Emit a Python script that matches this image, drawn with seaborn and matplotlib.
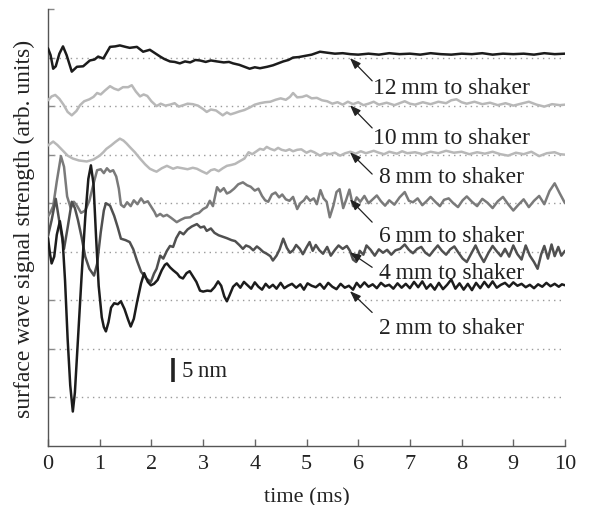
import pandas as pd
import seaborn as sns
import matplotlib.pyplot as plt

# signal traces: (time in ms, displacement in nm relative to the trace baseline)
trace_12mm = [(0, 1.9), (0.05, 0.5), (0.1, -2.3), (0.15, -1.8), (0.22, 0.8), (0.29, 2.3), (0.36, 0.5),
              (0.46, -2.9), (0.56, -1.9), (0.68, -1.8), (0.81, -0.6), (0.9, -0.4), (0.97, 0.2), (1.07, -0.2),
              (1.2, 2.2), (1.3, 2.3), (1.39, 2.5), (1.5, 2.2), (1.58, 2.0), (1.72, 2.2), (1.84, 1.2),
              (1.97, 1.6), (2.07, 0.9), (2.17, 0.2), (2.25, -0.3), (2.36, -0.8), (2.45, -0.9), (2.55, -1.2),
              (2.65, -0.8), (2.75, -1.0), (2.85, -0.5), (2.94, -0.6), (3.05, -0.9), (3.15, -0.6), (3.27, -0.8),
              (3.4, -1.0), (3.5, -0.9), (3.58, -1.2), (3.7, -1.5), (3.8, -1.9), (3.9, -2.3), (4.0, -2.0),
              (4.1, -2.2), (4.24, -1.9), (4.35, -1.6), (4.45, -1.2), (4.55, -0.8), (4.65, -0.5), (4.74, 0.0),
              (4.85, 0.1), (5.0, 0.4), (5.1, 0.6), (5.26, 1.2), (5.4, 1.0), (5.55, 0.8), (5.7, 0.9),
              (5.85, 0.7), (6.0, 0.6), (6.2, 0.8), (6.4, 0.6), (6.6, 0.9), (6.8, 0.7), (7.0, 0.8), (7.2, 0.6),
              (7.4, 0.9), (7.6, 0.7), (7.8, 0.6), (8.0, 0.8), (8.2, 0.7), (8.4, 0.9), (8.6, 0.6), (8.8, 0.8),
              (9.0, 0.7), (9.2, 0.8), (9.4, 0.6), (9.6, 0.9), (9.8, 0.7), (10.0, 0.8)]

trace_10mm = [(0, 1.2), (0.07, 2.0), (0.14, 2.3), (0.22, 1.5), (0.3, 0.3), (0.38, -1.2), (0.46, -1.9),
              (0.55, -1.0), (0.62, 0.2), (0.7, 1.0), (0.8, 1.4), (0.88, 1.9), (0.95, 2.7), (1.02, 2.4),
              (1.1, 3.2), (1.2, 4.1), (1.28, 3.6), (1.36, 3.3), (1.45, 3.9), (1.55, 3.9), (1.62, 4.3),
              (1.7, 3.0), (1.78, 2.0), (1.85, 2.4), (1.92, 2.1), (2.0, 1.0), (2.1, 0.0), (2.18, 0.5),
              (2.27, 0.1), (2.36, 0.3), (2.45, 0.6), (2.53, -0.1), (2.62, 0.2), (2.7, 0.5), (2.8, 0.4),
              (2.9, 0.1), (3.0, -0.6), (3.07, -1.2), (3.15, -0.7), (3.25, -0.9), (3.38, -1.9), (3.46, -1.3),
              (3.53, -1.7), (3.62, -1.4), (3.7, -1.1), (3.8, -0.8), (3.9, -0.3), (4.0, 0.3), (4.1, 0.6),
              (4.2, 0.8), (4.3, 0.9), (4.4, 1.3), (4.5, 1.6), (4.6, 1.3), (4.68, 1.9), (4.74, 2.7),
              (4.82, 1.8), (4.92, 1.9), (5.0, 2.2), (5.1, 1.6), (5.2, 1.7), (5.3, 1.2), (5.4, 1.0),
              (5.5, 0.5), (5.6, 0.8), (5.7, 0.3), (5.8, 0.9), (5.9, 0.4), (6.0, 0.8), (6.1, 0.2), (6.2, 0.5),
              (6.3, 0.9), (6.4, 0.3), (6.55, 0.7), (6.7, 0.2), (6.8, 0.6), (6.9, 1.0), (7.0, 0.5), (7.1, 0.3),
              (7.25, 0.8), (7.4, 0.4), (7.55, 0.9), (7.7, 0.6), (7.8, 1.2), (7.9, 1.4), (8.0, 0.8),
              (8.1, 0.5), (8.25, 0.9), (8.4, 0.4), (8.55, 0.7), (8.7, 0.2), (8.85, 0.6), (9.0, 0.1),
              (9.15, 0.5), (9.3, 0.9), (9.45, 0.3), (9.6, -0.1), (9.75, 0.4), (9.9, 0.2), (10.0, 0.3)]

trace_8mm = [(0, 1.9), (0.05, 2.3), (0.1, 2.7), (0.18, 2.0), (0.29, 0.8), (0.38, -0.2), (0.48, -0.8),
             (0.6, -1.2), (0.75, -1.4), (0.88, -1.0), (1.0, -0.2), (1.07, 0.5), (1.13, 1.2), (1.22, 1.9),
             (1.3, 2.6), (1.39, 3.3), (1.46, 2.9), (1.52, 2.3), (1.58, 1.6), (1.68, 0.5), (1.78, -0.8),
             (1.88, -2.0), (1.97, -2.9), (2.05, -3.3), (2.1, -3.5), (2.2, -2.8), (2.3, -2.3), (2.42, -2.9),
             (2.5, -2.6), (2.6, -2.8), (2.7, -3.0), (2.8, -2.7), (2.88, -2.9), (2.97, -3.4), (3.07, -3.9),
             (3.15, -3.2), (3.22, -3.0), (3.3, -3.4), (3.38, -2.8), (3.46, -2.3), (3.55, -2.1), (3.62, -1.9),
             (3.7, -1.4), (3.8, -0.8), (3.88, 0.5), (3.95, 0.1), (4.02, 0.6), (4.1, 1.2), (4.17, 1.0),
             (4.23, 1.6), (4.3, 1.2), (4.38, 0.9), (4.45, 1.4), (4.52, 1.0), (4.6, 0.8), (4.67, 1.1),
             (4.74, 0.7), (4.82, 1.0), (4.9, 1.1), (5.0, 0.4), (5.08, 0.8), (5.15, 0.5), (5.26, -0.2),
             (5.35, 0.3), (5.45, 0.1), (5.55, 0.4), (5.65, -0.2), (5.75, 0.3), (5.85, 0.6), (5.95, 0.2),
             (6.05, 0.7), (6.15, 0.3), (6.3, 0.8), (6.4, 0.4), (6.5, 0.1), (6.6, 0.6), (6.75, 0.2),
             (6.85, 0.7), (6.95, 0.3), (7.1, 0.5), (7.25, 0.1), (7.4, 0.6), (7.55, 0.3), (7.7, 0.8),
             (7.85, 0.4), (8.0, 0.6), (8.15, 0.1), (8.3, 0.5), (8.45, 0.2), (8.6, 0.6), (8.75, 0.1),
             (8.9, -0.2), (9.05, 0.4), (9.2, 0.1), (9.35, 0.6), (9.5, -0.3), (9.65, 0.3), (9.8, 0.5),
             (9.9, 0.1), (10.0, 0.0)]

trace_6mm = [(0, -2.7), (0.05, -1.8), (0.1, -0.6), (0.17, 4.5), (0.25, 9.7), (0.31, 7.5), (0.37, 1.4),
             (0.44, -1.0), (0.5, 0.3), (0.56, -0.5), (0.64, -2.0), (0.72, -1.5), (0.8, 0.5), (0.88, 4.0),
             (0.95, 6.8), (1.02, 7.0), (1.08, 6.2), (1.14, 7.2), (1.2, 6.5), (1.26, 6.8), (1.32, 5.5),
             (1.37, 3.0), (1.41, -0.3), (1.47, -0.8), (1.53, 0.2), (1.6, -0.6), (1.66, 0.6), (1.73, -0.2),
             (1.8, 1.0), (1.86, 0.1), (1.93, 0.4), (2.0, -0.8), (2.06, -1.8), (2.1, -2.7), (2.17, -2.2),
             (2.23, -2.7), (2.3, -2.4), (2.38, -3.0), (2.49, -3.9), (2.57, -3.4), (2.65, -3.0), (2.75, -2.9),
             (2.83, -2.3), (2.92, -2.0), (3.0, -1.2), (3.07, -0.8), (3.13, 0.5), (3.19, -0.6), (3.27, 3.3),
             (3.33, 2.4), (3.4, 3.1), (3.46, 2.0), (3.52, 2.3), (3.6, 3.0), (3.68, 3.9), (3.77, 4.3),
             (3.85, 3.7), (3.92, 3.4), (4.0, 2.6), (4.07, 3.0), (4.14, 1.5), (4.2, 0.6), (4.26, 0.3),
             (4.33, 1.8), (4.4, 2.2), (4.47, 1.2), (4.53, 1.8), (4.6, 0.8), (4.67, 0.5), (4.74, 1.3),
             (4.82, -1.2), (4.88, 0.0), (4.95, 0.6), (5.0, 1.4), (5.07, 0.5), (5.14, 1.0), (5.2, -0.2),
             (5.27, 2.7), (5.33, 1.0), (5.39, 0.3), (5.45, -2.9), (5.52, -0.5), (5.58, 2.3), (5.64, 2.9),
             (5.71, -1.0), (5.77, 0.8), (5.83, 2.8), (5.9, -0.6), (5.97, 1.2), (6.04, 0.3), (6.12, 1.5),
             (6.2, 0.0), (6.28, 0.8), (6.36, 1.6), (6.44, 0.4), (6.52, -0.5), (6.6, 0.6), (6.7, -0.3),
             (6.8, 1.2), (6.9, 2.3), (6.98, 0.5), (7.06, 0.2), (7.15, 1.0), (7.24, -0.4), (7.32, 0.4),
             (7.4, 1.3), (7.5, 0.2), (7.58, -0.6), (7.66, 0.7), (7.75, 1.0), (7.84, 0.0), (7.93, -0.8),
             (8.02, 0.6), (8.1, 1.4), (8.2, 0.3), (8.3, -0.6), (8.4, 0.9), (8.5, 0.1), (8.6, -1.0),
             (8.7, 0.4), (8.8, 1.3), (8.9, -0.2), (9.0, -1.5), (9.1, -0.3), (9.2, 0.8), (9.3, -0.8),
             (9.4, 0.5), (9.5, 1.5), (9.6, -0.2), (9.7, 2.5), (9.8, 4.1), (9.9, 2.0), (10.0, 0.0)]

trace_4mm = [(0, 3.3), (0.07, 6.5), (0.15, 10.9), (0.23, 5.5), (0.31, 0.6), (0.38, 5.0), (0.46, 10.3),
             (0.52, 9.0), (0.58, 6.5), (0.65, 3.0), (0.72, -1.0), (0.8, -3.5), (0.89, -4.9), (0.95, -2.5),
             (1.02, 4.0), (1.08, 8.5), (1.12, 10.0), (1.2, 9.5), (1.28, 7.4), (1.35, 5.0), (1.41, 2.7),
             (1.5, 2.4), (1.58, 2.0), (1.65, 0.5), (1.72, -1.8), (1.8, -4.1), (1.9, -5.5), (1.99, -6.2),
             (2.05, -4.5), (2.1, -3.5), (2.17, -0.8), (2.23, -1.4), (2.3, 0.2), (2.36, 1.2), (2.42, 1.0),
             (2.48, 2.8), (2.55, 4.1), (2.62, 3.6), (2.7, 4.6), (2.78, 5.2), (2.88, 5.7), (2.95, 5.0),
             (3.02, 5.2), (3.07, 4.3), (3.15, 4.8), (3.22, 3.9), (3.3, 3.4), (3.38, 3.1), (3.46, 2.8),
             (3.55, 2.4), (3.62, 2.2), (3.7, 1.4), (3.77, 0.6), (3.83, 1.3), (3.9, 1.0), (3.97, 0.3),
             (4.04, 1.1), (4.1, 0.6), (4.16, 0.0), (4.23, -0.4), (4.3, -0.9), (4.35, -1.8), (4.42, -0.8),
             (4.48, 0.5), (4.55, 2.7), (4.62, 0.8), (4.68, -0.2), (4.74, 0.3), (4.8, 1.4), (4.87, 0.6),
             (4.93, -0.5), (5.0, 0.9), (5.06, 2.0), (5.12, 0.2), (5.18, 1.4), (5.25, 0.3), (5.32, -0.4),
             (5.4, 1.0), (5.47, -0.8), (5.55, 0.4), (5.62, 1.3), (5.7, 0.6), (5.78, 1.2), (5.84, 0.2),
             (5.9, -1.6), (5.96, -2.1), (6.03, 0.2), (6.1, -0.6), (6.16, 1.3), (6.24, 0.4), (6.32, -0.8),
             (6.4, 0.5), (6.48, -0.2), (6.56, 0.4), (6.64, -0.6), (6.72, 0.3), (6.81, 0.6), (6.9, 1.5),
             (6.98, 0.4), (7.06, -0.3), (7.14, 0.6), (7.22, 1.0), (7.3, -0.2), (7.38, -0.8), (7.46, 0.3),
             (7.54, 1.3), (7.62, 0.2), (7.7, -0.6), (7.78, 0.5), (7.86, 1.1), (7.94, -0.2), (8.02, -1.4),
             (8.1, -2.1), (8.18, -0.5), (8.27, 1.3), (8.35, -0.6), (8.43, -2.1), (8.52, -0.2), (8.6, 1.2),
             (8.68, 0.1), (8.76, -0.9), (8.84, 0.6), (8.92, -1.0), (9.0, 1.3), (9.08, -0.5), (9.16, -1.6),
             (9.24, 1.3), (9.32, -0.8), (9.4, -2.1), (9.47, -3.5), (9.54, -0.5), (9.6, 1.2), (9.67, -1.4),
             (9.74, 1.5), (9.8, -0.9), (9.87, 1.0), (9.93, -0.8), (10.0, 0.2)]

trace_2mm = [(0, 12.8), (0.04, 9.5), (0.07, 7.6), (0.12, 9.0), (0.17, 13.5), (0.23, 16.3), (0.28, 13.0),
             (0.33, 4.0), (0.38, -8.0), (0.43, -17.5), (0.48, -22.9), (0.52, -19.0), (0.58, -8.0),
             (0.65, 5.0), (0.72, 17.0), (0.78, 25.0), (0.83, 27.8), (0.88, 24.0), (0.93, 13.0), (0.98, 3.0),
             (1.04, -3.5), (1.08, -5.5), (1.12, -6.4), (1.17, -4.5), (1.22, -1.5), (1.28, -0.6), (1.35, -0.8),
             (1.41, -0.2), (1.48, -1.8), (1.55, -4.0), (1.6, -5.4), (1.66, -3.8), (1.72, -0.5), (1.8, 3.5),
             (1.86, 5.6), (1.93, 3.8), (1.99, 3.1), (2.05, 3.4), (2.12, 4.2), (2.2, 6.2), (2.26, 7.3),
             (2.3, 7.6), (2.36, 6.8), (2.42, 6.2), (2.5, 5.5), (2.55, 4.8), (2.61, 4.5), (2.68, 5.6),
             (2.74, 6.0), (2.8, 5.0), (2.87, 3.8), (2.94, 2.0), (3.0, 1.8), (3.08, 2.0), (3.15, 1.9),
             (3.22, 2.7), (3.29, 3.9), (3.35, 3.0), (3.41, 0.8), (3.46, -0.2), (3.51, 1.0), (3.58, 2.8),
             (3.65, 3.5), (3.72, 2.6), (3.79, 3.8), (3.86, 3.1), (3.93, 2.4), (4.0, 3.7), (4.07, 2.8),
             (4.14, 2.2), (4.21, 3.4), (4.28, 2.6), (4.35, 3.2), (4.42, 2.4), (4.5, 3.6), (4.57, 2.5),
             (4.64, 3.0), (4.72, 3.4), (4.8, 2.6), (4.88, 3.3), (4.95, 2.2), (5.02, 3.5), (5.1, 3.0),
             (5.18, 2.7), (5.26, 3.4), (5.34, 2.4), (5.42, 3.6), (5.5, 2.8), (5.58, 2.3), (5.66, 3.4),
             (5.74, 2.6), (5.82, 3.0), (5.9, 2.2), (5.97, 3.6), (6.04, 2.7), (6.12, 3.7), (6.2, 2.8),
             (6.28, 3.3), (6.36, 2.5), (6.44, 3.6), (6.52, 2.9), (6.6, 3.2), (6.68, 2.4), (6.76, 3.5),
             (6.84, 2.6), (6.92, 3.4), (7.0, 2.5), (7.08, 3.8), (7.16, 2.7), (7.24, 3.9), (7.32, 2.4),
             (7.4, 3.3), (7.48, 2.2), (7.56, 3.6), (7.64, 2.3), (7.72, 3.2), (7.8, 4.3), (7.88, 2.4),
             (7.96, 3.5), (8.04, 2.2), (8.12, 3.4), (8.2, 2.1), (8.28, 3.6), (8.36, 2.5), (8.44, 3.8),
             (8.52, 2.7), (8.6, 3.9), (8.68, 2.6), (8.76, 3.2), (8.84, 3.6), (8.92, 2.8), (9.0, 3.7),
             (9.08, 3.0), (9.16, 3.4), (9.24, 2.7), (9.32, 3.2), (9.4, 2.5), (9.48, 3.3), (9.56, 2.8),
             (9.64, 3.6), (9.72, 2.9), (9.8, 3.4), (9.88, 2.8), (9.94, 3.3), (10.0, 3.1)]

labels = ['12\u2009mm to shaker', '10\u2009mm to shaker', '8\u2009mm to shaker',
          '6\u2009mm to shaker', '4\u2009mm to shaker', '2\u2009mm to shaker']
traces = [trace_12mm, trace_10mm, trace_8mm, trace_6mm, trace_4mm, trace_2mm]
baselines = [80, 70, 60, 50, 40, 30]          # nm offset of each trace
empty_baselines = [20, 10]
colors = ['#1c1c1c', '#b8b8b8', '#b8b8b8', '#7a7a7a', '#505050', '#1c1c1c']

# arrow tip / tail and label position (time, nm)
arrow_tips = [(5.84, 79.9), (5.84, 70.2), (5.84, 60.5), (5.84, 50.8), (5.84, 39.9), (5.84, 31.9)]
arrow_tails = [(6.27, 75.2), (6.27, 65.5), (6.27, 56.0), (6.27, 46.1), (6.27, 36.8), (6.27, 27.5)]
label_pos = [(7.8, 73.9), (7.8, 63.6), (7.8, 55.6), (7.8, 43.3), (7.8, 35.8), (7.8, 24.4)]

scale_bar_t = 2.42
scale_bar_low = 13.1
scale_bar_nm = 5

sns.set_style('ticks')
plt.rcParams['font.family'] = ['Liberation Serif', 'DejaVu Serif']

fig = plt.figure(figsize=(5.95, 5.06), dpi=100)
ax = fig.add_axes([48 / 595, 1 - 447 / 506, 517 / 595, 437 / 506])

for b in baselines + empty_baselines:
    ax.axhline(b, color='#9a9a9a', lw=1.0, ls=(0, (1, 3)), zorder=1)

for tr, base, col in zip(traces, baselines, colors):
    df = pd.DataFrame(tr, columns=['time', 'disp'])
    df['signal'] = df['disp'] + base
    sns.lineplot(data=df, x='time', y='signal', color=col, lw=1.8, estimator=None,
                 ax=ax, zorder=3)

for tip, tail, (lx, ly), lab in zip(arrow_tips, arrow_tails, label_pos, labels):
    ax.annotate('', xy=tip, xytext=tail,
                arrowprops=dict(arrowstyle='-|>,head_length=0.6,head_width=0.22',
                                color='#222222', lw=0.9, shrinkA=0, shrinkB=0,
                                mutation_scale=11), zorder=5)
    ax.text(lx, ly, lab, ha='center', va='center', fontsize=17, color='#222222', zorder=5)

# 5 nm scale bar
ax.vlines(scale_bar_t, scale_bar_low, scale_bar_low + scale_bar_nm, color='#222222', lw=2.6)
ax.text(scale_bar_t + 0.18, scale_bar_low + scale_bar_nm / 2, '5\u2009nm', ha='left', va='center',
        fontsize=16.5, color='#222222')

ax.set_xlim(0, 10)
ax.set_ylim(0, 90)
ax.set_xticks(range(0, 11))
ax.set_yticks(range(10, 100, 10))
ax.set_yticklabels([])
ax.tick_params(axis='x', direction='in', length=5, width=1, color='#666666', labelsize=16,
               pad=6, labelcolor='#222222')
ax.tick_params(axis='y', direction='in', length=4, width=1, color='#888888')
ax.set_xlabel('time (ms)', fontsize=16, color='#222222', labelpad=10)
ax.set_ylabel('surface wave signal strength (arb. units)', fontsize=17, color='#222222', labelpad=6)

sns.despine(ax=ax)
for s in ['left', 'bottom']:
    ax.spines[s].set_color('#555555')
    ax.spines[s].set_linewidth(1.0)

plt.savefig('out.png', dpi=100)
plt.close()
